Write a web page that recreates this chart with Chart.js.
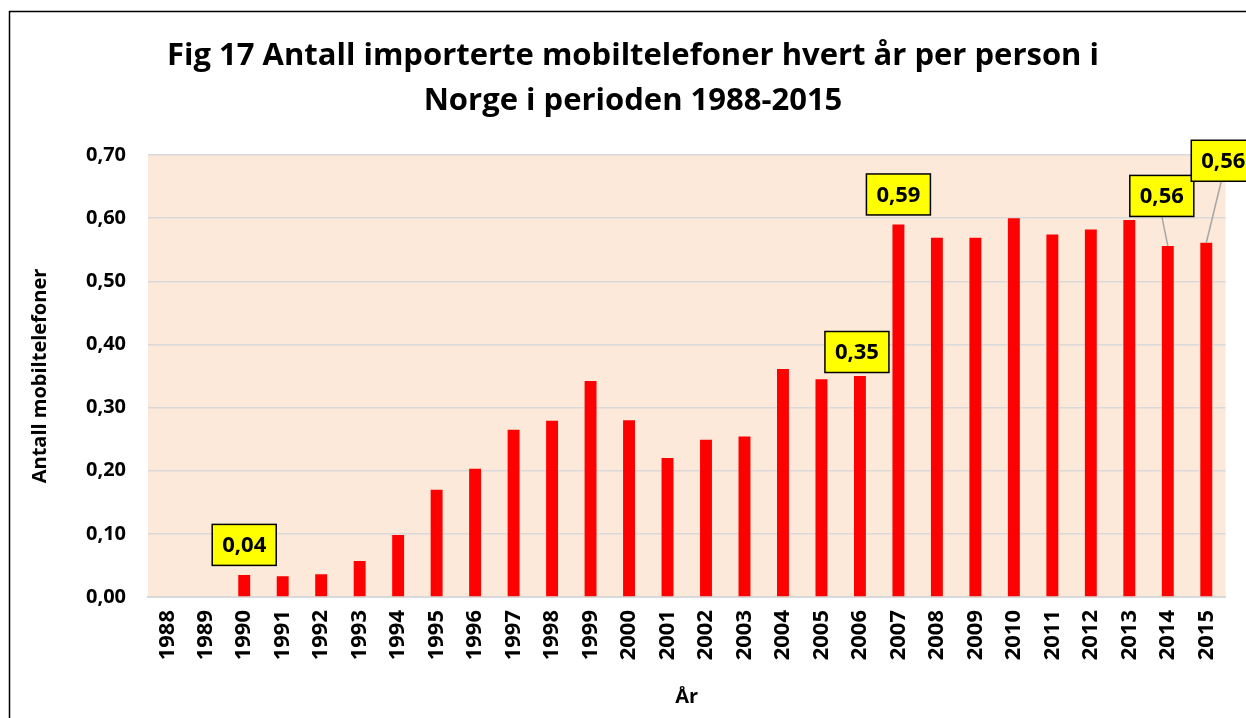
<!DOCTYPE html>
<html><head><meta charset="utf-8">
<script src="https://cdn.jsdelivr.net/npm/chart.js@4"></script>
<style>html,body{margin:0;padding:0;background:#fff}#wrap{width:1246px;height:718px;position:relative}</style>
</head><body><div id="wrap"><canvas id="c" width="1246" height="718"></canvas></div>
<script>
const years = ['1988','1989','1990','1991','1992','1993','1994','1995','1996','1997','1998','1999','2000','2001','2002','2003','2004','2005','2006','2007','2008','2009','2010','2011','2012','2013','2014','2015'];
const phonesPerPerson = [0,0,0.035,0.033,0.036,0.057,0.098,0.170,0.203,0.265,0.279,0.342,0.280,0.220,0.249,0.254,0.361,0.345,0.350,0.590,0.569,0.569,0.600,0.574,0.582,0.597,0.556,0.561];
const yTicks = [0,0.1,0.2,0.3,0.4,0.5,0.6,0.7];
const labelledYears = ['1990','2006','2007','2014','2015'];
const titleLines = ['Fig 17 Antall importerte mobiltelefoner hvert år per person i','Norge i perioden 1988-2015'];
const yTitle = 'Antall mobiltelefoner';
const xTitle = 'År';

const FONT = '"Open Sans", Lato, sans-serif';
const fmt = v => v.toFixed(2).replace('.', ',');

// label box placement (offset from bar top centre), leader line flag
const labelStyle = {
  '1990': {dx: 0, dy: -30, leader: false},
  '2006': {dx: -3, dy: -24, leader: false},
  '2007': {dx: 0, dy: -30, leader: false},
  '2014': {dx: -6, dy: -50, leader: true},
  '2015': {dx: 17, dy: -82, leader: true}
};

const framePlugin = {
  id: 'frame',
  beforeDraw(chart) {
    const {ctx, chartArea: a} = chart;
    ctx.save();
    ctx.fillStyle = '#FDE9DA';
    ctx.fillRect(a.left, a.top, a.right - a.left, a.bottom - a.top);
    ctx.restore();
  },
  afterDraw(chart) {
    const ctx = chart.ctx;
    ctx.save();
    ctx.strokeStyle = '#000';
    ctx.lineWidth = 1.5;
    ctx.strokeRect(9.5, 11.5, 1400, 900);
    // title
    ctx.fillStyle = '#000';
    ctx.font = 'bold 31px ' + FONT;
    ctx.textAlign = 'center';
    ctx.textBaseline = 'middle';
    ctx.fillText(titleLines[0], 633, 56);
    ctx.fillText(titleLines[1], 633, 101);
    ctx.restore();
  }
};

const labelPlugin = {
  id: 'boxLabels',
  afterDatasetsDraw(chart) {
    const ctx = chart.ctx;
    const meta = chart.getDatasetMeta(0);
    ctx.save();
    ctx.font = 'bold 22px ' + FONT;
    ctx.textAlign = 'center';
    ctx.textBaseline = 'middle';
    labelledYears.forEach(y => {
      const i = years.indexOf(y);
      const bar = meta.data[i];
      const st = labelStyle[y];
      const cx = bar.x + st.dx, cy = bar.y + st.dy;
      const w = 64, h = 41;
      if (st.leader) {
        ctx.strokeStyle = '#A6A6A6';
        ctx.lineWidth = 1.5;
        ctx.beginPath();
        ctx.moveTo(cx + (y === '2015' ? -2 : 0), cy + h / 2);
        ctx.lineTo(bar.x, bar.y);
        ctx.stroke();
      }
      ctx.fillStyle = '#FFFF00';
      ctx.fillRect(cx - w / 2, cy - h / 2, w, h);
      ctx.strokeStyle = '#000';
      ctx.lineWidth = 1.5;
      ctx.strokeRect(cx - w / 2, cy - h / 2, w, h);
      ctx.fillStyle = '#000';
      ctx.fillText(fmt(phonesPerPerson[i]), cx, cy + 1);
    });
    ctx.restore();
  }
};

new Chart(document.getElementById('c'), {
  type: 'bar',
  data: {
    labels: years,
    datasets: [{
      data: phonesPerPerson,
      backgroundColor: '#FF0000',
      borderWidth: 0,
      barPercentage: 0.31,
      categoryPercentage: 1
    }]
  },
  options: {
    responsive: false,
    animation: false,
    events: [],
    layout: {padding: {left: 10, right: 18, top: 155, bottom: 0}},
    plugins: {legend: {display: false}, title: {display: false}, tooltip: {enabled: false}},
    scales: {
      x: {
        afterFit: s => { s.height = 121; },
        grid: {display: false, drawTicks: false},
        border: {display: true, color: '#D9D9D9', width: 2},
        ticks: {
          minRotation: 90, maxRotation: 90, autoSkip: false, padding: 13,
          color: '#000', font: {family: FONT, size: 22, weight: 'bold'}
        },
        title: {display: true, text: xTitle, color: '#000', font: {family: FONT, size: 20, weight: 'bold'}, padding: {top: 0, bottom: 9}}
      },
      y: {
        min: 0, max: 0.7,
        afterFit: s => { s.width = 138; },
        afterBuildTicks: s => { s.ticks = yTicks.map(v => ({value: v})); },
        grid: {color: '#D9D9D9', lineWidth: 1.5, drawTicks: false},
        border: {display: false},
        ticks: {
          padding: 22, color: '#000',
          font: {family: FONT, size: 20, weight: 'bold'},
          callback: v => fmt(v)
        },
        title: {display: true, text: yTitle, color: '#000', font: {family: FONT, size: 20, weight: 'bold'}, padding: {top: 18, bottom: 0}}
      }
    }
  },
  plugins: [framePlugin, labelPlugin]
});
</script></body></html>
